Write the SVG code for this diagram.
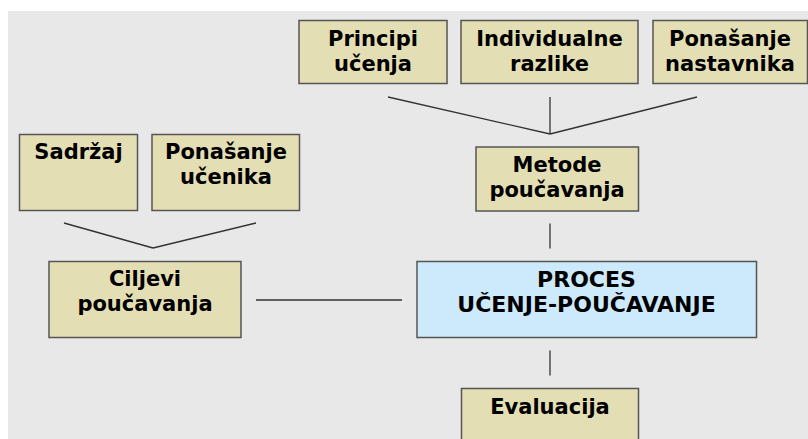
<svg xmlns="http://www.w3.org/2000/svg" width="808" height="439" viewBox="0 0 808 439">
<style>
.box{fill:#e4deb4;stroke:#555;stroke-width:1.5}
.main{fill:#cceafb;stroke:#555;stroke-width:1.5}
.t{font-family:"DejaVu Sans",Verdana,sans-serif;font-weight:bold;font-size:21px;fill:#000;text-anchor:middle}
.c line{stroke:#333;stroke-width:1.3}
</style>
<rect x="0" y="0" width="808" height="439" fill="#fff"/>
<rect x="8" y="11" width="800" height="428" fill="#e8e8e8"/>
<g id="principi"><rect class="box" x="299" y="20.5" width="148" height="63"/><text class="t" x="373" y="46">Principi</text><text class="t" x="373" y="71">učenja</text></g>
<g id="individualne"><rect class="box" x="461" y="20.5" width="177" height="63"/><text class="t" x="549.5" y="46">Individualne</text><text class="t" x="549.5" y="71">razlike</text></g>
<g id="ponasanje-nastavnika"><rect class="box" x="653" y="20.5" width="154.5" height="63"/><text class="t" x="730" y="46">Ponašanje</text><text class="t" x="730" y="71">nastavnika</text></g>
<g id="sadrzaj"><rect class="box" x="19.5" y="134.5" width="118" height="76"/><text class="t" x="78.5" y="159">Sadržaj</text></g>
<g id="ponasanje-ucenika"><rect class="box" x="152" y="134.5" width="147.5" height="76"/><text class="t" x="226" y="159">Ponašanje</text><text class="t" x="226" y="184">učenika</text></g>
<g id="metode"><rect class="box" x="476" y="147" width="162.5" height="64"/><text class="t" x="557" y="172">Metode</text><text class="t" x="557" y="197">poučavanja</text></g>
<g id="ciljevi"><rect class="box" x="49" y="261.5" width="192" height="76"/><text class="t" x="145" y="286">Ciljevi</text><text class="t" x="145" y="310.5">poučavanja</text></g>
<g id="proces"><rect class="main" x="417" y="261.5" width="339.5" height="76"/><text class="t" x="586.5" y="287" style="font-size:22px">PROCES</text><text class="t" x="586.5" y="312" style="font-size:22px">UČENJE-POUČAVANJE</text></g>
<g id="evaluacija"><rect class="box" x="461.5" y="388.5" width="177" height="60"/><text class="t" x="550" y="414">Evaluacija</text></g>
<g class="c" id="connectors">
<line x1="388" y1="97" x2="550" y2="134"/>
<line x1="550" y1="97" x2="550" y2="134"/>
<line x1="697" y1="97" x2="550" y2="134"/>
<line x1="64" y1="223" x2="153" y2="248"/>
<line x1="256" y1="223" x2="153" y2="248"/>
<line x1="256" y1="300" x2="402" y2="300"/>
<line x1="550" y1="223.5" x2="550" y2="248.5"/>
<line x1="550" y1="350.5" x2="550" y2="375.5"/>
</g>
</svg>
